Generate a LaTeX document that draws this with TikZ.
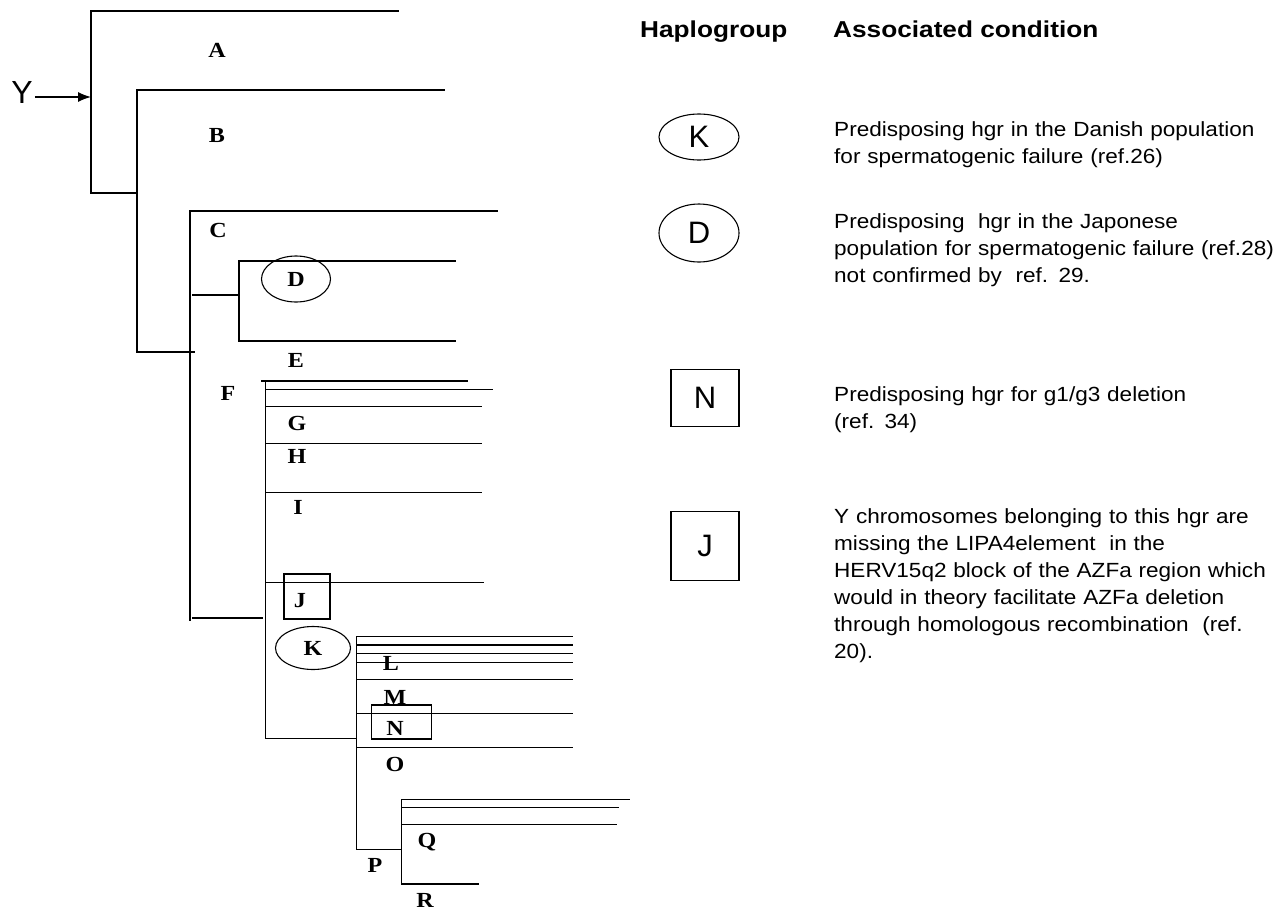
\documentclass[tikz,border=0pt]{standalone}
\usepackage{fontspec}
\setmainfont{Liberation Sans}
\newfontfamily\treefont[FakeStretch=1.12]{Liberation Serif}
\newfontfamily\descfont[FakeStretch=1.1]{Liberation Sans}
\newfontfamily\headfont[FakeStretch=1.14]{Liberation Sans}
\usetikzlibrary{shapes.geometric,arrows.meta}
\begin{document}
\begin{tikzpicture}[x=1pt,y=-1pt,
  branch/.style={line width=1.35pt, line cap=rect},
  lab/.style={font=\treefont\bfseries\fontsize{21.5}{25}\selectfont, inner sep=0pt},
  oval/.style={draw, line width=1.1pt, ellipse, inner sep=0pt},
  sqbox/.style={draw, line width=1.1pt, rectangle, inner sep=0pt},
  big/.style={font=\fontsize{31}{33}\selectfont},
  head/.style={font=\headfont\bfseries\fontsize{23}{27}\selectfont, inner sep=0pt, anchor=base west},
  desc/.style={font=\descfont\fontsize{20.5}{27}\selectfont, inner sep=0pt, anchor=base west, text width=460pt, align=left}
]
\useasboundingbox (0,0) rectangle (1274,911);

% root arrow
\node[inner sep=0pt, font=\fontsize{32}{34}\selectfont] (Y) at (22,92.5) {Y};
\coordinate (root) at (91,97);
\draw[line width=1.3pt, -{Latex[length=13pt,width=10pt]}] (Y.east |- root) ++(2,0) -- (root);

% tree
\draw[branch] (398,11) -- (91,11) -- (91,193) -- (137,193);
\draw[branch] (444,90) -- (137,90) -- (137,352) -- (194,352);
\draw[branch] (497,211) -- (190,211) -- (190,620);
\draw[branch] (193,295) -- (239,295);
\draw[branch] (455,261) -- (239,261) -- (239,341) -- (455,341);
\draw[branch] (193,618) -- (262,618);
\draw[branch] (265.7,381) -- (265.7,738.3) -- (356.7,738.3);
\draw[branch] (262,381) -- (467,381);
\foreach \yy/\xe in {389.3/492, 406.7/481, 443.7/481, 492.7/481, 582.3/483}
  \draw[branch] (265.7,\yy) -- (\xe,\yy);
\draw[branch] (356.7,636.7) -- (356.7,849.3) -- (401.7,849.3);
\foreach \yy in {636.7, 645, 653.3, 662.3, 679.3, 713.3, 747.7}
  \draw[branch] (356.7,\yy) -- (572.7,\yy);
\draw[branch] (629.3,799.3) -- (401.7,799.3) -- (401.7,884) -- (478.3,884);
\draw[branch] (401.7,807.3) -- (618.3,807.3);
\draw[branch] (401.7,824.3) -- (616.7,824.3);

% tree labels
\node[lab] (lA) at (217,50) {A};
\node[lab] (lB) at (217,135) {B};
\node[lab] (lC) at (218,230) {C};
\node[lab, oval, minimum width=69pt, minimum height=46pt] (lD) at (296,279) {D};
\node[lab] (lE) at (296,360) {E};
\node[lab] (lF) at (228,393) {F};
\node[lab] (lG) at (297,423) {G};
\node[lab] (lH) at (297,456) {H};
\node[lab] (lI) at (298,507) {I};
\node[sqbox, minimum width=46pt, minimum height=45pt] (bJ) at (307,596.5) {};
\node[lab] (lJ) at (300,601) {J};
\node[lab, oval, minimum width=75pt, minimum height=43pt] (lK) at (313,648) {K};
\node[lab] (lL) at (391,663) {L};
\node[lab] (lM) at (395,697) {M};
\node[sqbox, minimum width=60pt, minimum height=34pt] (bN) at (401.7,722) {};
\node[lab] (lN) at (395,728) {N};
\node[lab] (lO) at (395,764) {O};
\node[lab] (lP) at (375,865) {P};
\node[lab] (lQ) at (427,842) {Q};
\node[lab] (lR) at (425,900) {R};

% legend
\node[head] (h1) at (640,37) {Haplogroup};
\node[head] (h2) at (833,37) {Associated condition};

\node[oval, big, minimum width=80pt, minimum height=46pt] (kK) at (699,137) {K};
\node[oval, big, minimum width=80pt, minimum height=58pt] (kD) at (699,233) {D};
\node[sqbox, big, minimum width=68pt, minimum height=57pt] (kN) at (705,398) {N};
\node[sqbox, big, minimum width=68pt, minimum height=69pt] (kJ) at (705,546) {J};

\node[desc] (tK) at (834,136) {Predisposing hgr in the Danish population\\for spermatogenic failure (ref.26)};
\node[desc] (tD) at (834,228) {Predisposing\ \ hgr in the Japonese\\population for spermatogenic failure (ref.28)\\not confirmed by\ \ ref. 29.};
\node[desc] (tN) at (834,401.7) {Predisposing hgr for g1/g3 deletion\\(ref. 34)};
\node[desc] (tJ) at (834,523.5) {Y chromosomes belonging to this hgr are\\missing the LIPA4element\ \ in the\\HERV15q2 block of the AZFa region which\\would in theory facilitate AZFa deletion\\through homologous recombination\ \ (ref.\\20).};
\end{tikzpicture}
\end{document}
